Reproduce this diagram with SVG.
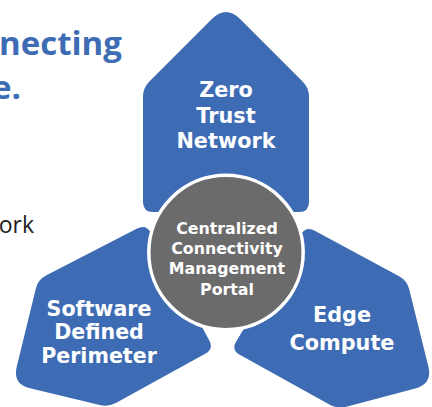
<svg xmlns="http://www.w3.org/2000/svg" width="432" height="407" viewBox="0 0 432 407">
  <style>
    .petal { fill: #3e6cb4; }
    .hub { fill: #6b6b6b; stroke: #ffffff; stroke-width: 3.5; }
    .lbl { font-family: "DejaVu Sans", "Liberation Sans", sans-serif; font-weight: 700; fill: #ffffff; text-anchor: middle; }
    .title { font-family: "Open Sans", "Liberation Sans", sans-serif; font-weight: 700; font-size: 33px; fill: #3e6cb4; }
    .body { font-family: "Open Sans", "Liberation Sans", sans-serif; font-weight: 400; font-size: 23px; fill: #222222; }
  </style>

  <g id="slide-text">
    <text class="title" x="-1" y="55">necting</text>
    <text class="title" x="21" y="99" text-anchor="end">e.</text>
    <text class="body" x="34" y="233" text-anchor="end">ork</text>
  </g>

  <g id="node-zero-trust">
    <path class="petal" d="M211.9,19.1 Q226,5 240.1,19.1 L302.6,81.6 Q309,88 309,97 L309,202 Q309,212 299,212 L153,212 Q143,212 143,202 L143,97 Q143,88 149.4,81.6 Z"/>
    <text class="lbl" font-size="20.8" x="226" y="97">Zero</text>
    <text class="lbl" font-size="20.8" x="226" y="123">Trust</text>
    <text class="lbl" font-size="20.8" x="226" y="148">Network</text>
  </g>

  <g id="node-sdp">
    <path class="petal" d="M150.8,232.8 Q146,224 137.1,228.6 L46,275.4 Q38,279.5 35.9,288.2 L16.8,366.5 Q12.5,384 30,388.2 L99.7,405 Q108.4,407.1 116.3,402.8 L205.2,353.8 Q214,349 209.2,340.2 Z"/>
    <text class="lbl" font-size="20.6" x="99" y="316">Software</text>
    <text class="lbl" font-size="20.6" x="99" y="339">Defined</text>
    <text class="lbl" font-size="20.6" x="99" y="362.5">Perimeter</text>
  </g>

  <g id="node-edge">
    <path class="petal" d="M300.8,234.6 Q306,226 314.8,230.75 L399.1,276.2 Q407,280.5 409.2,289.2 L428.3,366.2 Q432.6,383.7 415.2,388.4 L346.4,406.8 Q337.7,409.1 329.8,404.7 L239.75,354.8 Q231,350 236.2,341.4 Z"/>
    <text class="lbl" font-size="20.8" x="342" y="322">Edge</text>
    <text class="lbl" font-size="20.8" x="342" y="349.5">Compute</text>
  </g>

  <g id="node-portal">
    <circle class="hub" cx="226" cy="252.5" r="77.2"/>
    <text class="lbl" font-size="15.8" x="227" y="233.5">Centralized</text>
    <text class="lbl" font-size="15.8" x="227" y="253.5">Connectivity</text>
    <text class="lbl" font-size="15.8" x="227" y="274">Management</text>
    <text class="lbl" font-size="15.8" x="227" y="295">Portal</text>
  </g>
</svg>
